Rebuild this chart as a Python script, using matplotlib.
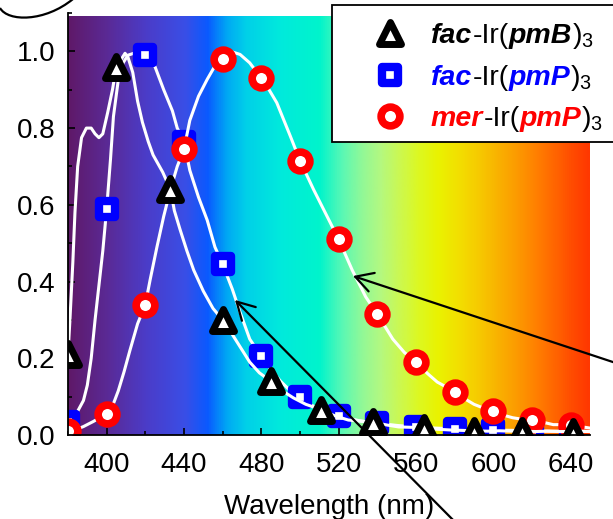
import numpy as np
import matplotlib
matplotlib.use("Agg")
import matplotlib.pyplot as plt
from matplotlib.colors import LinearSegmentedColormap, Normalize
from matplotlib.lines import Line2D
from matplotlib.markers import MarkerStyle
from matplotlib.patches import Rectangle, FancyArrowPatch, PathPatch
from matplotlib.path import Path
from matplotlib.ticker import FormatStrFormatter
from matplotlib.offsetbox import TextArea, HPacker, AnchoredOffsetbox

plt.rcParams['font.family'] = ['Liberation Sans', 'DejaVu Sans']
plt.rcParams['mathtext.fontset'] = 'custom'
plt.rcParams['mathtext.rm'] = 'Liberation Sans'
plt.rcParams['mathtext.it'] = 'Liberation Sans:italic'
plt.rcParams['mathtext.bf'] = 'Liberation Sans:bold'

# ---- emission spectra (normalised intensity) ----
pmb_wl = [380, 381, 382.5, 383.6, 385, 387, 389.5, 392, 394, 396, 398, 400.5, 403,
          405, 407, 409.5, 411, 413.5, 416, 418.5, 421.5, 424, 429, 433, 435, 438,
          441.5, 445, 450, 455, 460, 464, 469, 474, 479, 485, 490, 496.5, 503, 511,
          518, 525, 531, 538, 545, 551, 558, 564, 571, 578, 584, 590, 597, 603, 609,
          615, 622, 628, 634, 641, 646, 650]
pmb_int = [0.21, 0.30, 0.45, 0.58, 0.70, 0.775, 0.80, 0.80, 0.785, 0.775, 0.785, 0.84,
           0.90, 0.96, 0.975, 0.995, 0.985, 0.945, 0.87, 0.815, 0.765, 0.73, 0.685,
           0.64, 0.585, 0.535, 0.48, 0.43, 0.375, 0.33, 0.30, 0.27, 0.23, 0.19, 0.162,
           0.14, 0.118, 0.097, 0.08, 0.066, 0.05, 0.039, 0.036, 0.033, 0.026, 0.021,
           0.02, 0.018, 0.015, 0.013, 0.012, 0.011, 0.01, 0.011, 0.01, 0.01, 0.009,
           0.01, 0.009, 0.009, 0.01, 0.009]
pmb_marks = [380, 405, 433, 460, 485, 511, 538, 564, 590, 615, 641]

facp_wl = [380, 382, 385, 388, 390, 392, 394, 396, 398, 400, 402, 403.5, 406, 408.5,
           411, 414, 417, 420, 425, 429.5, 434, 436.5, 440, 443, 447.5, 452, 456, 460,
           465, 469, 474, 480, 485, 490, 495, 500, 505, 510, 515, 520, 525, 530, 535,
           540, 550, 560, 570, 580, 590, 600, 610, 620, 630, 640, 650]
facp_int = [0.035, 0.045, 0.062, 0.09, 0.13, 0.2, 0.3, 0.39, 0.48, 0.59, 0.72, 0.83,
            0.925, 0.97, 0.99, 0.995, 0.995, 0.99, 0.96, 0.90, 0.845, 0.80, 0.765,
            0.69, 0.62, 0.56, 0.49, 0.445, 0.38, 0.32, 0.25, 0.205, 0.17, 0.14, 0.115,
            0.098, 0.08, 0.068, 0.057, 0.05, 0.044, 0.038, 0.034, 0.031, 0.025, 0.021,
            0.018, 0.016, 0.014, 0.013, 0.012, 0.011, 0.01, 0.01, 0.009]
facp_marks = list(range(380, 641, 20))

merp_wl = [380, 385, 388, 393, 400, 403, 406, 409, 412, 416, 420, 422.5, 426, 429.5,
           433, 436.5, 440, 443, 447.5, 452, 456, 460, 464, 469, 474, 480, 484, 488,
           495, 500, 507, 514, 520, 527, 534, 540, 548, 554, 560, 566, 571, 580, 585,
           590, 595, 600, 605, 610, 615, 620, 625, 631, 640, 645, 650]
merp_int = [0.01, 0.016, 0.022, 0.035, 0.055, 0.075, 0.115, 0.165, 0.22, 0.29, 0.34,
            0.405, 0.49, 0.57, 0.64, 0.70, 0.745, 0.82, 0.883, 0.927, 0.962, 0.98, 1.0,
            0.992, 0.97, 0.93, 0.90, 0.866, 0.779, 0.715, 0.64, 0.57, 0.51, 0.43, 0.36,
            0.315, 0.25, 0.215, 0.19, 0.16, 0.138, 0.113, 0.095, 0.08, 0.07, 0.063,
            0.052, 0.045, 0.041, 0.04, 0.034, 0.027, 0.027, 0.022, 0.018]
merp_marks = list(range(380, 641, 20))

x_ticks = [400, 440, 480, 520, 560, 600, 640]
y_ticks = [0.0, 0.2, 0.4, 0.6, 0.8, 1.0]

# visible-spectrum backdrop colour stops (nm, colour)
spec_stops = [(380, '#5f1969'), (400, '#5a2a96'), (420, '#4b3cc8'), (440, '#3a4ee6'),
              (452, '#0a5aff'), (462, '#00a8f4'), (472, '#00d0e8'), (490, '#00eadc'),
              (510, '#00f4cc'), (522, '#5af8b4'), (532, '#90f898'), (542, '#b4f880'),
              (552, '#ccf850'), (562, '#ddf820'), (572, '#eaf200'), (582, '#f2e000'),
              (592, '#f6cc00'), (602, '#f9b400'), (612, '#fc9c00'), (622, '#ff8200'),
              (632, '#ff6600'), (642, '#ff4a00'), (650, '#ff3800')]

W, H = 613, 519
fig = plt.figure(figsize=(W / 100, H / 100), dpi=100)
ax = fig.add_axes([68 / W, 1 - 435 / H, (590 - 68) / W, (435 - 13) / H])


def fpx(x, y):
    """pixel position (origin top-left) -> figure fraction"""
    return (x / W, 1 - y / H)


lo, hi = spec_stops[0][0], spec_stops[-1][0]
cmap = LinearSegmentedColormap.from_list(
    'spectrum', [((w - lo) / (hi - lo), c) for w, c in spec_stops])
grid = np.linspace(lo, hi, 800)
ax.imshow(grid[None, :], cmap=cmap, norm=Normalize(lo, hi), extent=[lo, hi, 0, 1.09],
          aspect='auto', origin='lower', interpolation='bilinear', zorder=0)

tri = MarkerStyle('^', joinstyle='round')
sq = MarkerStyle('s', joinstyle='round')
styles = {
    'pmb': dict(marker=tri, ms=16, mew=5.0, mec='black', mfc='white'),
    'facp': dict(marker=sq, ms=11.5, mew=6.0, mec='#0000ff', mfc='white'),
    'merp': dict(marker='o', ms=13.5, mew=5.5, mec='#ff0000', mfc='white'),
}


def draw(wl, val, marks, style, z):
    ax.plot(wl, val, color='white', lw=2.2, zorder=z)
    idx = [wl.index(m) for m in marks]
    ax.plot(wl, val, ls='none', markevery=idx, zorder=z + 0.5, **style)


draw(facp_wl, facp_int, facp_marks, styles['facp'], 2)
draw(merp_wl, merp_int, merp_marks, styles['merp'], 3)
draw(pmb_wl, pmb_int, pmb_marks, styles['pmb'], 4)

ax.set_xlim(380, 650)
ax.set_ylim(0, 1.1)
ax.set_xticks(x_ticks)
ax.set_xticks(np.arange(380, 651, 20), minor=True)
ax.set_yticks(y_ticks)
ax.set_yticks(np.arange(0, 1.11, 0.1), minor=True)
ax.yaxis.set_major_formatter(FormatStrFormatter('%.1f'))
for s in ('top', 'right'):
    ax.spines[s].set_visible(False)
for s in ('left', 'bottom'):
    ax.spines[s].set_linewidth(1.3)
    ax.spines[s].set_zorder(10)
ax.tick_params(which='both', direction='in', width=1.2, labelsize=20)
ax.tick_params(which='major', length=5)
ax.tick_params(which='minor', length=3)
ax.tick_params(axis='x', pad=12)
ax.tick_params(axis='y', pad=9)
ax.set_xlabel('Wavelength (nm)', fontsize=20, labelpad=12)

# pointer arrows
for tail, tip in [((463, 530), (235, 300)), ((640, 371), (353, 276))]:
    fig.add_artist(FancyArrowPatch(
        fpx(*tail), fpx(*tip), transform=fig.transFigure,
        arrowstyle='->,head_length=1.25,head_width=0.7', mutation_scale=10,
        lw=1.6, color='black', shrinkA=0, shrinkB=0, zorder=30))

# curved stroke in the corner
arc = Path([fpx(0, 8), fpx(8, 22), fpx(45, 22), fpx(73, -1)],
           [Path.MOVETO, Path.CURVE4, Path.CURVE4, Path.CURVE4])
fig.add_artist(PathPatch(arc, transform=fig.transFigure, fill=False, lw=1.6,
                         color='black', zorder=30))

# legend box (runs off the right-hand edge)
x0, y0 = fpx(332, 142)
fig.add_artist(Rectangle((x0, y0), 340 / W, 137 / H, transform=fig.transFigure,
                         facecolor='white', edgecolor='black', lw=1.3, zorder=20))

legend_rows = [
    ('pmb', [('fac', 'black', True), ('-Ir(', 'black', False), ('pmB', 'black', True),
             (')$_3$', 'black', False)]),
    ('facp', [('fac', '#0000ff', True), ('-Ir(', 'black', False), ('pmP', '#0000ff', True),
              (')$_3$', 'black', False)]),
    ('merp', [('mer', '#ff0000', True), ('-Ir(', 'black', False), ('pmP', '#ff0000', True),
              (')$_3$', 'black', False)]),
]
row_y = [33, 75, 116]
for (key, parts), yy in zip(legend_rows, row_y):
    mx, my = fpx(390, yy)
    fig.add_artist(Line2D([mx], [my], transform=fig.transFigure, ls='none', zorder=21,
                          **styles[key]))
    boxes = []
    for txt, col, emph in parts:
        props = dict(color=col, fontsize=20.5)
        if emph:
            props.update(fontweight='bold', fontstyle='italic')
        boxes.append(TextArea(txt, textprops=props))
    row = HPacker(children=boxes, align='baseline', pad=0, sep=0)
    ab = AnchoredOffsetbox(loc='center left', child=row, pad=0, borderpad=0,
                           frameon=False, bbox_to_anchor=fpx(431, yy + 3),
                           bbox_transform=fig.transFigure)
    ab.set_zorder(22)
    fig.add_artist(ab)

fig.savefig('out.png', dpi=100)
